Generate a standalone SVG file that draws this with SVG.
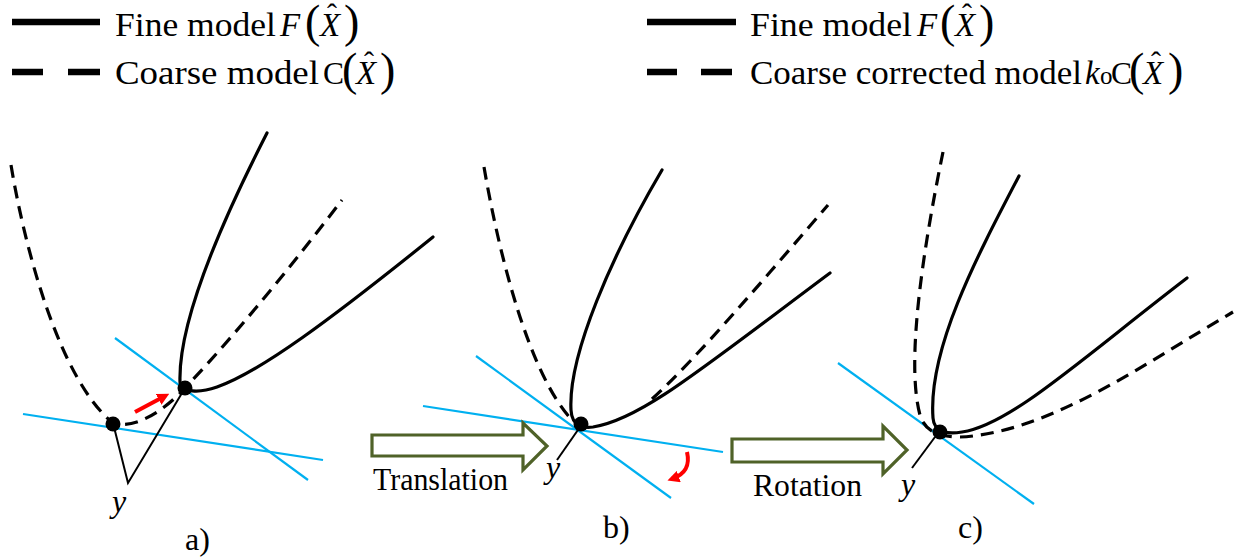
<svg xmlns="http://www.w3.org/2000/svg" width="1235" height="557" viewBox="0 0 1235 557">
<defs>
<style>
.t{font-family:'Liberation Serif','DejaVu Serif',serif;font-size:33px;fill:#000}
.i{font-style:italic}
.p{font-size:46px;font-style:normal}
.h{font-size:30px;font-style:normal}
.o{font-size:25px;font-style:normal}
.c{font-size:31.5px;font-style:normal}
.lab{font-family:'Liberation Serif','DejaVu Serif',serif;font-size:32px;fill:#000}
.fine{fill:none;stroke:#000;stroke-width:3.2;stroke-linecap:round;stroke-linejoin:round}
.coarse{fill:none;stroke:#000;stroke-width:3.2;stroke-dasharray:13 8}
.tan{fill:none;stroke:#00B0F0;stroke-width:2.2}
.thin{fill:none;stroke:#000;stroke-width:2}
.dot{fill:#000}
.block{fill:#fff;stroke:#4F6228;stroke-width:3.2;stroke-linejoin:miter}
.red{fill:none;stroke:#FF0000;stroke-width:4}
.lg{stroke:#000;stroke-width:6.5}
</style>
<marker id="rh" viewBox="0 0 10 10" refX="6" refY="5" markerWidth="12" markerHeight="12" markerUnits="userSpaceOnUse" orient="auto">
<path d="M0,0 L10,5 L0,10 z" fill="#FF0000"/>
</marker>
</defs>
<rect width="1235" height="557" fill="#fff"/>

<g id="legend-left">
<line class="lg" x1="12" y1="22" x2="100" y2="22"/>
<line class="lg" x1="12" y1="72" x2="43" y2="72"/>
<line class="lg" x1="68" y1="72" x2="100" y2="72"/>
<text class="t" x="115" y="36" textLength="161" lengthAdjust="spacingAndGlyphs">Fine model</text>
<text class="t"><tspan class="i" x="280" y="36">F</tspan><tspan class="p" x="305" y="37">(</tspan><tspan class="i" x="320" y="36">X</tspan><tspan class="h" x="327" y="24">ˆ</tspan><tspan class="p" x="344" y="37">)</tspan></text>
<text class="t" x="115" y="84" textLength="204" lengthAdjust="spacingAndGlyphs">Coarse model</text>
<text class="t"><tspan class="c" x="323" y="84">C</tspan><tspan class="p" x="342" y="85">(</tspan><tspan class="i" x="356" y="84">X</tspan><tspan class="h" x="364" y="72">ˆ</tspan><tspan class="p" x="380" y="85">)</tspan></text>
</g>

<g id="legend-right">
<line class="lg" x1="647" y1="22" x2="736" y2="22"/>
<line class="lg" x1="647" y1="72" x2="677" y2="72"/>
<line class="lg" x1="701" y1="72" x2="732" y2="72"/>
<text class="t" x="750" y="36" textLength="162" lengthAdjust="spacingAndGlyphs">Fine model</text>
<text class="t"><tspan class="i" x="917" y="36">F</tspan><tspan class="p" x="940" y="37">(</tspan><tspan class="i" x="955" y="36">X</tspan><tspan class="h" x="962" y="24">ˆ</tspan><tspan class="p" x="979" y="37">)</tspan></text>
<text class="t" x="750" y="84" textLength="332" lengthAdjust="spacingAndGlyphs">Coarse corrected model</text>
<text class="t"><tspan class="i" x="1085" y="84">k</tspan><tspan class="o" x="1100" y="84">o</tspan><tspan class="c" x="1111" y="84">C</tspan><tspan class="p" x="1129" y="85">(</tspan><tspan class="i" x="1143" y="84">X</tspan><tspan class="h" x="1151" y="72">ˆ</tspan><tspan class="p" x="1168" y="85">)</tspan></text>
</g>

<g id="panel-a">
<line class="tan" x1="23" y1="414" x2="323" y2="460"/>
<line class="tan" x1="115" y1="338" x2="308" y2="480"/>
<path class="coarse" d="M11,165 C25,250 60,380 113,423 C135,430 165,410 185,388 C240,330 300,255 342,200"/>
<path class="fine" d="M267,133 C225,215 178,320 180,382 C181,393 200,393 217,387 C260,372 330,320 433,237"/>
<polyline class="thin" points="113,423 128,483 185,388"/>
<circle class="dot" cx="113" cy="424" r="7.5"/>
<circle class="dot" cx="185" cy="388" r="7.5"/>
<line class="red" x1="135" y1="412" x2="165" y2="396" marker-end="url(#rh)"/>
<text class="lab i" x="112" y="512">y</text>
<text class="lab" x="185" y="550">a)</text>
</g>

<g id="panel-b">
<line class="tan" x1="423" y1="406" x2="723" y2="452"/>
<line class="tan" x1="476" y1="356" x2="671" y2="498"/>
<path class="coarse" d="M484,167 C500,260 530,375 572,420"/>
<path class="coarse" d="M652,399 C700,355 770,272 828,205"/>
<path class="fine" d="M662,170 C612,255 568,355 571,410 C572,428 585,428 593,427 C640,420 700,370 830,273"/>
<line class="thin" x1="557" y1="460" x2="580" y2="427"/>
<circle class="dot" cx="581" cy="424" r="7.5"/>
<path class="red" d="M687,452 C690,465 686,474 672,479" marker-end="url(#rh)"/>
<text class="lab i" x="546" y="478">y</text>
<text class="lab" x="603" y="538">b)</text>
</g>

<g id="panel-c">
<line class="tan" x1="838" y1="363" x2="1034" y2="504"/>
<path class="coarse" d="M943,152 C925,240 905,360 920,415 C925,432 940,437 960,437 C1050,433 1150,360 1233,312"/>
<path class="fine" d="M1019,176 C975,260 928,350 933,418 C934,434 950,434 962,432 C1010,425 1080,360 1187,278"/>
<line class="thin" x1="912" y1="468" x2="935" y2="437"/>
<circle class="dot" cx="940" cy="432" r="7.5"/>
<text class="lab i" x="901" y="495">y</text>
<text class="lab" x="958" y="538">c)</text>
</g>

<g id="connectors">
<polygon class="block" points="372,435 523,435 523,423 547,446 523,470 523,456 372,456"/>
<polygon class="block" points="732,439 883,439 883,426 907,450 883,474 883,462 732,462"/>
</g>

<g id="step-labels">
<text class="lab" x="373" y="490" textLength="135" lengthAdjust="spacingAndGlyphs">Translation</text>
<text class="lab" x="753" y="496" textLength="109" lengthAdjust="spacingAndGlyphs">Rotation</text>
</g>
</svg>
